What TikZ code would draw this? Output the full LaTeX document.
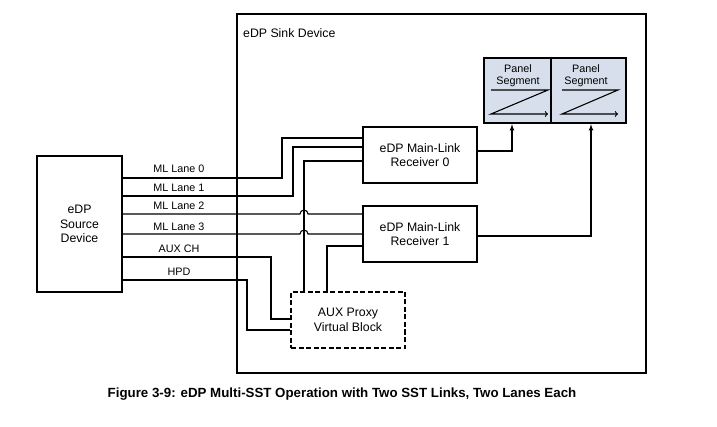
\documentclass[tikz,border=0pt]{standalone}
\usepackage{fontspec}
\setmainfont{Liberation Sans}
\usetikzlibrary{positioning}
\definecolor{panelfill}{RGB}{214,223,235}
\tikzstyle{block} = [rectangle, draw=black, line width=2.1pt, align=center, inner sep=0pt]
\tikzstyle{proxyblock} = [block, line width=2.6pt, dash pattern=on 5pt off 2.5pt]
\tikzstyle{line} = [line width=1.1pt]
\tikzstyle{arrow} = [line width=1.1pt,->,>=latex]
\tikzstyle{lbl} = [font=\fontsize{10.8}{12.5}\selectfont, inner sep=0pt]

\begin{document}
\begin{tikzpicture}[x=1pt,y=-1pt, font=\fontsize{12.3}{14.5}\selectfont]
\useasboundingbox (0,0) rectangle (717,427);
\node (sink) [rectangle, draw, line width=1.2pt, minimum width=409pt, minimum height=359pt, inner sep=0pt] at (441.5,193.5) {};
\node (sinklabel) [anchor=west, inner sep=0pt] at (243,33) {eDP Sink Device};

\node (src) [block, minimum width=85pt, minimum height=136pt] at (79.5,224) {eDP\\Source\\Device};
\node (rx0) [block, minimum width=114pt, minimum height=56pt] at (420,155) {eDP Main-Link\\Receiver 0};
\node (rx1) [block, minimum width=114pt, minimum height=56pt, below=21pt of rx0] {eDP Main-Link\\Receiver 1};
\node (proxy) [proxyblock, minimum width=114pt, minimum height=56pt] at (348,320) {AUX Proxy\\Virtual Block};
\node (panel) [block, line width=2.4pt, fill=panelfill, minimum width=142pt, minimum height=65pt] at (555,90.5) {};
\draw [line] (panel.north -| 551,0) -- (panel.south -| 551,0);
\node (seg0) [lbl, align=center] at (518,75.5) {Panel\\Segment};
\node (seg1) [lbl, align=center] at (586,75.5) {Panel\\Segment};
\draw [line, ->, >=to] (491,90) -- (548,90) -- (491,114) -- (548,114);
\draw [line, ->, >=to] (562,90) -- (618,90) -- (562,114) -- (618,114);

% lanes from the source
\draw [line] (src.east |- 0,178) -| (282,138) -- (rx0.west |- 0,138);
\draw [line] (src.east |- 0,196) -| (293,147) -- (rx0.west |- 0,147);
\draw [line] (src.east |- 0,214) -- (300,214) arc[start angle=180, end angle=0, radius=4pt] -- (rx1.west |- 0,214);
\draw [line] (src.east |- 0,234) -- (300,234) arc[start angle=180, end angle=0, radius=4pt] -- (rx1.west |- 0,234);
\draw [line] (src.east |- 0,257) -| (271,319) -- (proxy.west |- 0,319);
\draw [line] (src.east |- 0,280) -| (247,330) -- (proxy.west |- 0,330);
\node (lane0) [lbl] at (179,169) {ML Lane 0};
\node (lane1) [lbl] at (179,188) {ML Lane 1};
\node (lane2) [lbl] at (179,206) {ML Lane 2};
\node (lane3) [lbl] at (179,227) {ML Lane 3};
\node (auxch) [lbl] at (179,249) {AUX CH};
\node (hpd) [lbl] at (179,272) {HPD};

% receivers to proxy and panel
\draw [line] (rx0.west |- 0,161) -| (proxy.north -| 304,0);
\draw [line] (rx1.west |- 0,246) -| (proxy.north -| 327,0);
\draw [arrow] (rx0.east |- 0,151) -| (panel.south -| 512,0);
\draw [arrow] (rx1.east |- 0,236) -| (panel.south -| 591,0);

\node (caption) [font=\fontsize{13.3}{15}\selectfont\bfseries] at (342,394) {Figure 3-9: eDP Multi-SST Operation with Two SST Links, Two Lanes Each};
\end{tikzpicture}
\end{document}
